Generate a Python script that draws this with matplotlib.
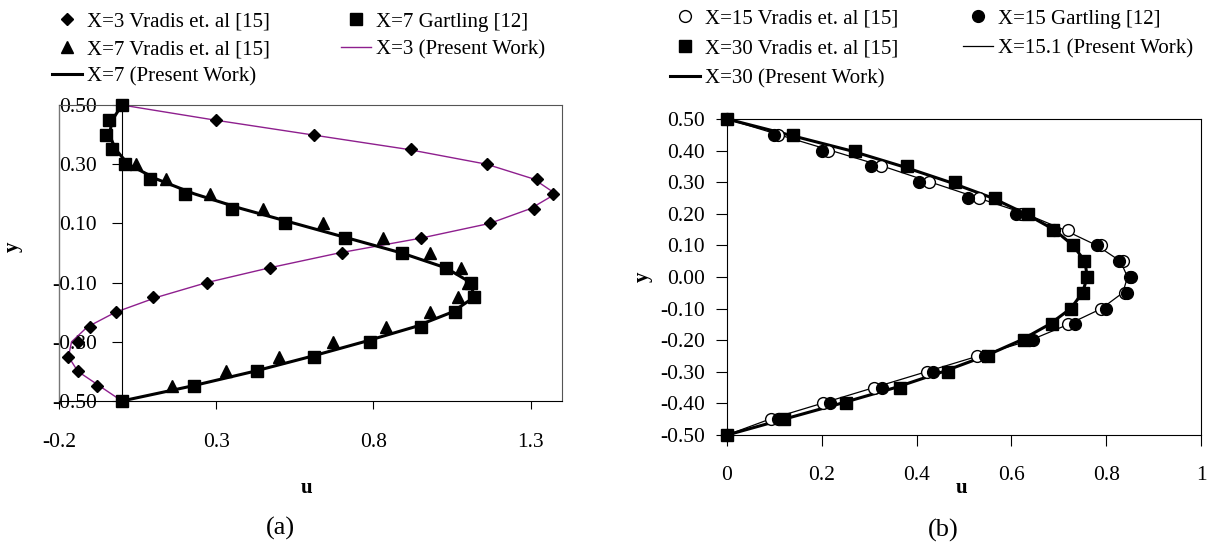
import matplotlib
matplotlib.use('Agg')
import matplotlib.pyplot as plt
from matplotlib.ticker import MultipleLocator, FormatStrFormatter, FixedLocator

plt.rcParams['font.family'] = ['Liberation Serif', 'DejaVu Serif']

# ---- (a) ----
y_a = [0.50, 0.45, 0.40, 0.35, 0.30, 0.25, 0.20, 0.15, 0.10, 0.05, 0.00,
       -0.05, -0.10, -0.15, -0.20, -0.25, -0.30, -0.35, -0.40, -0.45, -0.50]
# X=3 Vradis (diamonds)
vr3_u = [0.00, 0.30, 0.61, 0.92, 1.16, 1.32, 1.37, 1.31, 1.17, 0.95, 0.70,
         0.47, 0.27, 0.10, -0.02, -0.10, -0.14, -0.17, -0.14, -0.08, 0.00]
# X=3 present work (purple line)
pw3_u = [0.00, 0.29, 0.60, 0.91, 1.16, 1.31, 1.38, 1.30, 1.17, 0.95, 0.69,
         0.47, 0.27, 0.11, -0.02, -0.11, -0.16, -0.17, -0.14, -0.07, 0.00]
# X=7 Gartling (squares)
ga7_u = [0.00, -0.04, -0.05, -0.03, 0.01, 0.09, 0.20, 0.35, 0.52, 0.71, 0.89,
         1.03, 1.11, 1.12, 1.06, 0.95, 0.79, 0.61, 0.43, 0.23, 0.00]
# X=7 present work (thick line)
pw7_u = [0.00, -0.03, -0.04, -0.02, 0.02, 0.11, 0.23, 0.38, 0.55, 0.72, 0.89,
         1.03, 1.11, 1.12, 1.05, 0.93, 0.77, 0.60, 0.42, 0.22, 0.00]
# X=7 Vradis (triangles)
y_tri = [0.30, 0.25, 0.20, 0.15, 0.10, 0.05, 0.00, -0.05, -0.10, -0.15,
         -0.20, -0.25, -0.30, -0.35, -0.40, -0.45]
vr7_u = [0.045, 0.14, 0.28, 0.45, 0.64, 0.83, 0.98, 1.08, 1.10, 1.07,
         0.98, 0.84, 0.67, 0.50, 0.33, 0.16]
yticks_a = [0.50, 0.30, 0.10, -0.10, -0.30, -0.50]
xticks_a = [-0.2, 0.3, 0.8, 1.3]

# ---- (b) ----
y_b = [0.50, 0.45, 0.40, 0.35, 0.30, 0.25, 0.20, 0.15, 0.10, 0.05, 0.00,
       -0.05, -0.10, -0.15, -0.20, -0.25, -0.30, -0.35, -0.40, -0.45, -0.50]
vr15_u = [0.00, 0.108, 0.214, 0.324, 0.427, 0.532, 0.62, 0.72, 0.79, 0.835, 0.85,
          0.84, 0.79, 0.72, 0.64, 0.528, 0.421, 0.31, 0.202, 0.092, 0.00]
ga15_u = [0.00, 0.099, 0.20, 0.303, 0.406, 0.509, 0.61, 0.69, 0.78, 0.828, 0.852,
          0.843, 0.80, 0.734, 0.646, 0.545, 0.435, 0.326, 0.217, 0.108, 0.00]
vr30_u = [0.00, 0.14, 0.269, 0.38, 0.481, 0.565, 0.634, 0.688, 0.731, 0.753, 0.76,
          0.75, 0.725, 0.685, 0.627, 0.551, 0.467, 0.365, 0.251, 0.12, 0.00]
pw15_u = [0.00, 0.11, 0.22, 0.33, 0.43, 0.53, 0.63, 0.71, 0.78, 0.83, 0.845,
          0.835, 0.79, 0.72, 0.64, 0.53, 0.42, 0.31, 0.20, 0.09, 0.00]
pw30_u = [0.00, 0.13, 0.26, 0.37, 0.47, 0.56, 0.63, 0.69, 0.73, 0.755, 0.76,
          0.75, 0.725, 0.68, 0.62, 0.545, 0.455, 0.355, 0.24, 0.12, 0.00]

W, H = 1208, 550
fig = plt.figure(figsize=(W / 100, H / 100), dpi=100)


def box(l, r, t, b):
    return [l / W, 1 - b / H, (r - l) / W, (b - t) / H]


fs = 15
tfs = 15.5
purple = '#8e1f8e'

# ---------- panel (a) ----------
ax = fig.add_axes(box(59, 562, 105, 401))
ax.plot(pw3_u, y_a, color=purple, lw=1.0, zorder=2, clip_on=False)
ax.plot(pw7_u, y_a, color='black', lw=2.2, zorder=2, clip_on=False)
ax.plot(vr3_u, y_a, 'D', color='black', ms=6.5, ls='none', zorder=3, clip_on=False)
ax.plot(vr7_u, y_tri, '^', color='black', ms=9, ls='none', zorder=3, clip_on=False)
ax.plot(ga7_u, y_a, 's', color='black', ms=9, ls='none', zorder=4, clip_on=False)
ax.set_xlim(-0.2, 1.4)
ax.set_ylim(-0.5, 0.5)
ax.xaxis.set_major_locator(FixedLocator(xticks_a))
ax.xaxis.set_major_formatter(FormatStrFormatter('%g'))
ax.yaxis.set_major_locator(FixedLocator(yticks_a))
ax.yaxis.set_major_formatter(FormatStrFormatter('%.2f'))
ax.spines['left'].set_position(('data', 0))
for s in ['top', 'right']:
    ax.spines[s].set_color('#555555')
ax.plot([0, 0], [0, 1], transform=ax.transAxes, color='#777777', lw=1, clip_on=False)
ax.tick_params(axis='y', direction='out', length=7, pad=11, labelsize=tfs)
ax.tick_params(axis='x', direction='out', length=6, pad=17, labelsize=tfs)

h_a = [
    plt.Line2D([], [], marker='D', color='black', ms=6.5, ls='none'),
    plt.Line2D([], [], marker='^', color='black', ms=9, ls='none'),
    plt.Line2D([], [], color='black', lw=2.2),
    plt.Line2D([], [], marker='s', color='black', ms=9, ls='none'),
    plt.Line2D([], [], color=purple, lw=1.0),
]
l_a = ['X=3 Vradis et. al [15]', 'X=7 Vradis et. al [15]', 'X=7 (Present Work)',
       'X=7 Gartling [12]', 'X=3 (Present Work)']
fig.legend(h_a, l_a, ncol=2, loc='upper left', bbox_to_anchor=(52 / W, 1 - 12 / H),
           frameon=False, fontsize=fs, borderpad=0, borderaxespad=0,
           handlelength=1.44, handletextpad=0.24, columnspacing=3.4, labelspacing=0.38)

fig.text(13 / W, 1 - 247 / H, 'y', rotation=90, fontsize=fs, fontweight='bold',
         ha='center', va='center')
fig.text(307 / W, 1 - 488 / H, 'u', fontsize=fs, fontweight='bold', ha='center', va='center')
fig.text(280 / W, 1 - 528 / H, '(a)', fontsize=19, ha='center', va='center')

# ---------- panel (b) ----------
bx = fig.add_axes(box(727, 1201, 119, 435))
bx.plot(pw15_u, y_b, color='black', lw=0.9, zorder=2, clip_on=False)
bx.plot(pw30_u, y_b, color='black', lw=2.2, zorder=2, clip_on=False)
bx.plot(vr15_u, y_b, 'o', mfc='white', mec='black', mew=1, ms=8.5, ls='none',
        zorder=3, clip_on=False)
bx.plot(ga15_u, y_b, 'o', color='black', ms=8.5, ls='none', zorder=4, clip_on=False)
bx.plot(vr30_u, y_b, 's', color='black', ms=8, ls='none', zorder=5, clip_on=False)
bx.set_xlim(0, 1)
bx.set_ylim(-0.5, 0.5)
bx.xaxis.set_major_locator(MultipleLocator(0.2))
bx.xaxis.set_major_formatter(FormatStrFormatter('%g'))
bx.yaxis.set_major_locator(MultipleLocator(0.1))
bx.yaxis.set_major_formatter(FormatStrFormatter('%.2f'))
bx.tick_params(axis='y', direction='out', length=8, pad=8, labelsize=tfs)
bx.tick_params(axis='x', direction='out', length=8, pad=14, labelsize=tfs)

h_b = [
    plt.Line2D([], [], marker='o', mfc='white', mec='black', ms=8.5, ls='none'),
    plt.Line2D([], [], marker='s', color='black', ms=8, ls='none'),
    plt.Line2D([], [], color='black', lw=2.2),
    plt.Line2D([], [], marker='o', color='black', ms=8.5, ls='none'),
    plt.Line2D([], [], color='black', lw=0.9),
]
l_b = ['X=15 Vradis et. al [15]', 'X=30 Vradis et. al [15]', 'X=30 (Present Work)',
       'X=15 Gartling [12]', 'X=15.1 (Present Work)']
fig.legend(h_b, l_b, ncol=2, loc='upper left', bbox_to_anchor=(670 / W, 1 - 9 / H),
           frameon=False, fontsize=fs, borderpad=0, borderaxespad=0,
           handlelength=1.44, handletextpad=0.24, columnspacing=3.1, labelspacing=0.5)

fig.text(643 / W, 1 - 277 / H, 'y', rotation=90, fontsize=fs, fontweight='bold',
         ha='center', va='center')
fig.text(962 / W, 1 - 488 / H, 'u', fontsize=fs, fontweight='bold', ha='center', va='center')
fig.text(943 / W, 1 - 530 / H, '(b)', fontsize=19, ha='center', va='center')

fig.savefig('out.png', dpi=100)
